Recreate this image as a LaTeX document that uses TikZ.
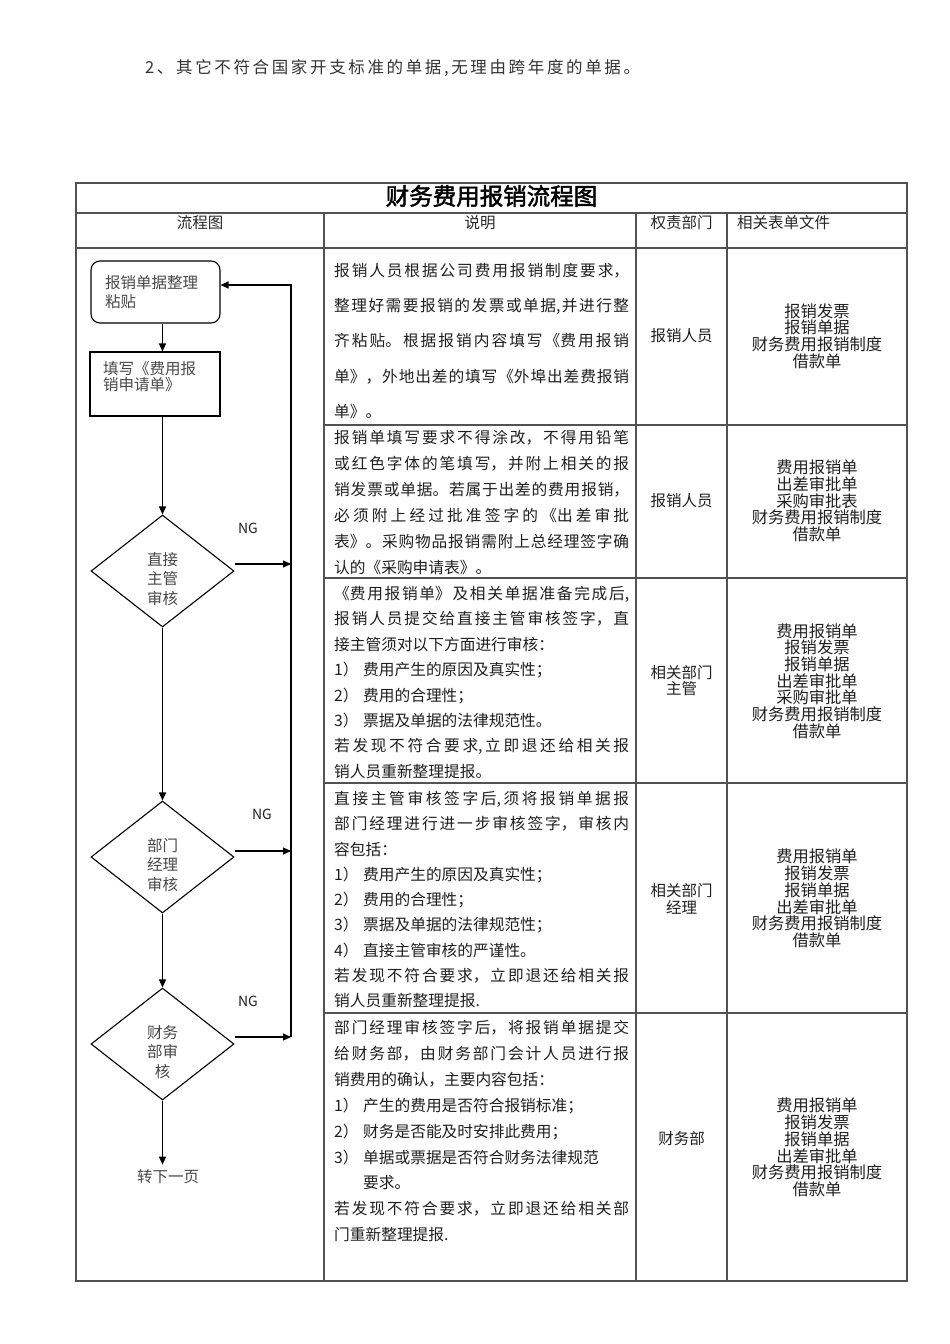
\documentclass[tikz,border=0pt]{standalone}
\usepackage{fontspec}
\setmainfont{Noto Sans CJK SC}[AutoFakeBold=2]
\newfontfamily\spacedfont{Noto Sans CJK SC}[LetterSpace=16]
\usetikzlibrary{shapes.geometric,arrows.meta}
\XeTeXlinebreaklocale "zh"
\XeTeXlinebreakskip=0pt plus 3pt
\tolerance=10000
\hbadness=10000
\newcommand\desctext[1]{\parbox[t]{295pt}{#1}}
\begin{document}
\begin{tikzpicture}[x=1pt,y=-1pt,
  tline/.style={draw=black!68,line width=1.2pt},
  fline/.style={draw=black,line width=1.1pt},
  arr/.style={fline,-{Triangle[length=8pt,width=7pt]}},
  desc/.style={anchor=north west,inner sep=0pt,text=black!88},
  dfont/.style={font=\fontsize{15.7}{#1}\selectfont},
  colc/.style={align=center,inner sep=0pt,text=black!88,font=\fontsize{15.5}{16.7}\selectfont},
  colf/.style={align=center,inner sep=0pt,text=black!88,font=\fontsize{16.3}{16.7}\selectfont},
  hdr/.style={inner sep=0pt,text=black!85,font=\fontsize{15.5}{17}\selectfont},
  dia/.style={diamond,fline,minimum width=143pt,minimum height=112pt,inner sep=0pt},
  dtext/.style={align=center,inner sep=0pt,text=black!72,font=\fontsize{15.5}{19.3}\selectfont},
  ngl/.style={inner sep=0pt,text=black!88,font=\fontsize{14}{14}\selectfont},
  ftext/.style={text=black!72,font=\fontsize{15.5}{18.5}\selectfont}
]
\useasboundingbox (0,0) rectangle (950,1344);

% top text
\node[anchor=west,inner sep=0pt,text=black!80,font=\spacedfont\fontsize{16.5}{18}\selectfont] (toptxt) at (145,68)
  {2、其它不符合国家开支标准的单据,无理由跨年度的单据。};

% table frame
\draw[tline] (76,183) rectangle (907,1281);
\draw[tline] (76,213) -- (907,213);
\draw[tline] (76,248) -- (907,248);
\foreach \x in {324,636,727} \draw[tline] (\x,213) -- (\x,1281);
\foreach \y in {425,578,783,1013} \draw[tline] (324,\y) -- (907,\y);

% title and headers
\node[inner sep=0pt,font=\fontsize{23.5}{25}\selectfont\bfseries] (title) at (491.5,196) {财务费用报销流程图};
\node[hdr] (h1) at (200,223) {流程图};
\node[hdr] (h2) at (480,223) {说明};
\node[hdr] (h3) at (681.5,223) {权责部门};
\node[hdr,anchor=west] (h4) at (737,223) {相关表单文件};

% description column
\node[desc,dfont=35.2] (r1) at (334,263) {\desctext{报销人员根据公司费用报销制度要求，\linebreak
整理好需要报销的发票或单据,并进行整\linebreak
齐粘贴。根据报销内容填写《费用报销\linebreak
单》，外地出差的填写《外埠出差费报销\linebreak
单》。}};

\node[desc,dfont=26] (r2) at (334,430) {\desctext{报销单填写要求不得涂改，不得用铅笔\linebreak
或红色字体的笔填写，并附上相关的报\linebreak
销发票或单据。若属于出差的费用报销，\linebreak
必须附上经过批准签字的《出差审批\linebreak
表》。采购物品报销需附上总经理签字确\linebreak
认的《采购申请表》。}};

\node[desc,dfont=25.4] (r3) at (334,586) {\desctext{《费用报销单》及相关单据准备完成后,\linebreak
报销人员提交给直接主管审核签字，直\linebreak
接主管须对以下方面进行审核：\newline
\makebox[29pt][l]{1）}费用产生的原因及真实性；\newline
\makebox[29pt][l]{2）}费用的合理性；\newline
\makebox[29pt][l]{3）}票据及单据的法律规范性。\newline
若发现不符合要求,立即退还给相关报\linebreak
销人员重新整理提报。}};

\node[desc,dfont=25.25] (r4) at (334,791) {\desctext{直接主管审核签字后,须将报销单据报\linebreak
部门经理进行进一步审核签字，审核内\linebreak
容包括：\newline
\makebox[29pt][l]{1）}费用产生的原因及真实性；\newline
\makebox[29pt][l]{2）}费用的合理性；\newline
\makebox[29pt][l]{3）}票据及单据的法律规范性；\newline
\makebox[29pt][l]{4）}直接主管审核的严谨性。\newline
若发现不符合要求，立即退还给相关报\linebreak
销人员重新整理提报.}};

\node[desc,dfont=25.9] (r5) at (334,1020) {\desctext{部门经理审核签字后，将报销单据提交\linebreak
给财务部，由财务部门会计人员进行报\linebreak
销费用的确认，主要内容包括：\newline
\makebox[29pt][l]{1）}产生的费用是否符合报销标准；\newline
\makebox[29pt][l]{2）}财务是否能及时安排此费用；\newline
\makebox[29pt][l]{3）}单据或票据是否符合财务法律规范\newline
\hspace*{29pt}要求。\newline
若发现不符合要求，立即退还给相关部\linebreak
门重新整理提报.}};

% responsibility column
\node[colc] (p1) at (681.5,336) {报销人员};
\node[colc] (p2) at (681.5,501) {报销人员};
\node[colc] (p3) at (681.5,680.5) {相关部门\\主管};
\node[colc] (p4) at (681.5,898.5) {相关部门\\经理};
\node[colc] (p5) at (681.5,1139) {财务部};

% forms column
\node[colf] (f1) at (817,336) {报销发票\\报销单据\\财务费用报销制度\\借款单};
\node[colf] (f2) at (817,501) {费用报销单\\出差审批单\\采购审批表\\财务费用报销制度\\借款单};
\node[colf] (f3) at (817,681) {费用报销单\\报销发票\\报销单据\\出差审批单\\采购审批单\\财务费用报销制度\\借款单};
\node[colf] (f4) at (817,898.5) {费用报销单\\报销发票\\报销单据\\出差审批单\\财务费用报销制度\\借款单};
\node[colf] (f5) at (817,1147.5) {费用报销单\\报销发票\\报销单据\\出差审批单\\财务费用报销制度\\借款单};

% flowchart
\node[fline,ftext,rounded corners=9pt,minimum width=129pt,minimum height=62pt,
      inner xsep=14pt,text width=101pt,align=left] (n1) at (155.5,292) {报销单据整理\\粘贴};
\node[fline,ftext,font=\fontsize{15.5}{16.5}\selectfont,minimum width=130pt,minimum height=64pt,
      inner xsep=13pt,text width=104pt,align=left] (n2) at (155,384) {填写《费用报\\销申请单》\\\mbox{}};

\node[dia] (d1) at (162.5,571) {};
\node[dia] (d2) at (162.5,857) {};
\node[dia] (d3) at (162.5,1044) {};
\node[dtext] (t1) at (162.5,579) {直接\\主管\\审核};
\node[dtext] (t2) at (162.5,865) {部门\\经理\\审核};
\node[dtext] (t3) at (162.5,1052) {财务\\部审\\核};

\node[ngl] (ng1) at (248,528) {NG};
\node[ngl] (ng2) at (262,814) {NG};
\node[ngl] (ng3) at (248,1001) {NG};

\node[ftext,inner sep=0pt] (endt) at (168,1177) {转下一页};

\coordinate (rtop) at (291,285);
\coordinate (rbot) at (291,1037);

\draw[arr] (n1.south -| d1.north) -- (n2.north -| d1.north);
\draw[arr] (n2.south -| d1.north) -- (d1.north);
\draw[arr] (d1.south) -- (d2.north);
\draw[arr] (d2.south) -- (d3.north);
\draw[arr] (d3.south) -- ([yshift=5pt]endt.north -| d3.south);

\draw[arr] ([yshift=7pt]d1.east) -- ([yshift=7pt]d1.east -| rtop);
\draw[arr] ([yshift=6pt]d2.east) -- ([yshift=6pt]d2.east -| rtop);
\draw[arr] ([yshift=7pt]d3.east) -- ([yshift=7pt]d3.east -| rtop);
\draw[arr] (rbot) -- (rtop) -- (n1.east |- rtop);
\end{tikzpicture}
\end{document}
